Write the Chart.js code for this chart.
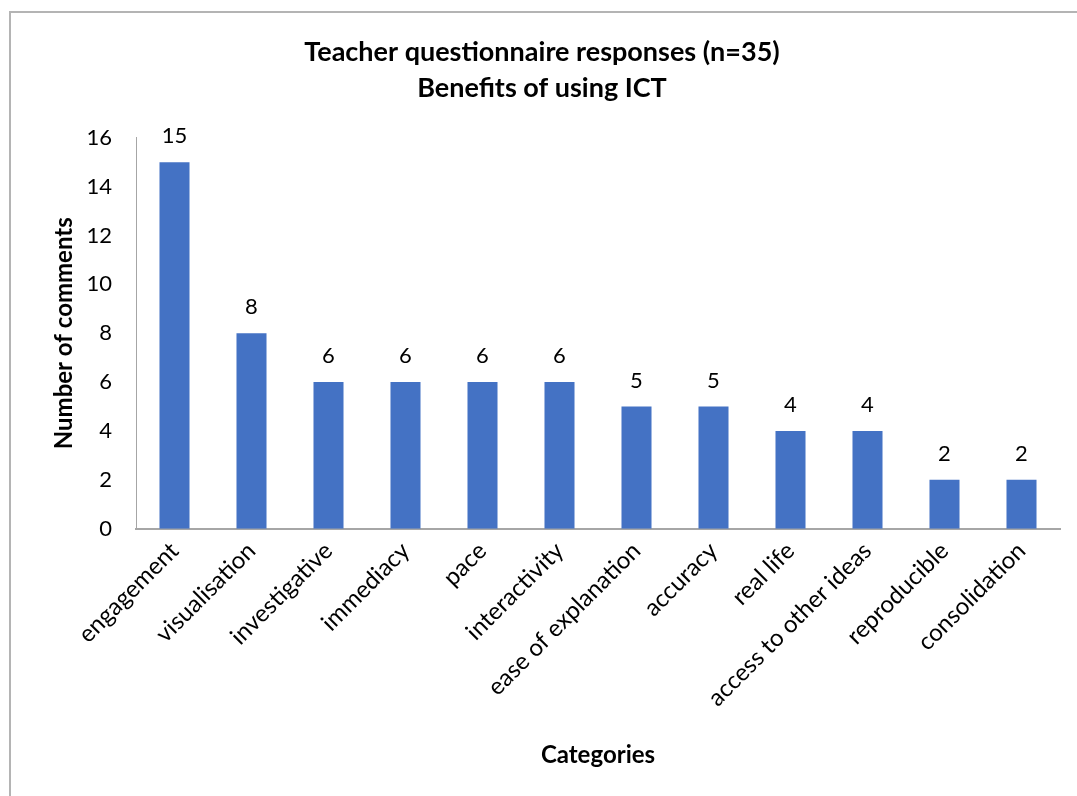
<!DOCTYPE html>
<html>
<head>
<meta charset="utf-8">
<script src="https://cdn.jsdelivr.net/npm/chart.js@4"></script>
<style>
  html, body { margin: 0; padding: 0; background: #fff; overflow: hidden; }
  .frame {
    position: absolute; left: 9px; top: 11px; width: 1100px; height: 800px;
    border-left: 2px solid #b4b4b4; border-top: 2px solid #b4b4b4;
  }
  .chart__box { position: absolute; left: 0; top: 0; width: 1077px; height: 796px; }
</style>
</head>
<body>
<div class="frame"></div>
<div class="chart__box"><canvas id="myChart"></canvas></div>
<script>
// data
const categories = [
  'engagement',
  'visualisation',
  'investigative',
  'immediacy',
  'pace',
  'interactivity',
  'ease of explanation',
  'accuracy',
  'real life',
  'access to other ideas',
  'reproducible',
  'consolidation',
];

const comments = [15, 8, 6, 6, 6, 6, 5, 5, 4, 4, 2, 2];

const titleLines = ['Teacher questionnaire responses (n=35)', 'Benefits of using ICT'];

const fontName = 'Lato, "Open Sans", sans-serif';

// value labels above bars
const valueLabels = {
  id: 'valueLabels',
  afterDatasetsDraw(chart) {
    const ctx = chart.ctx;
    const meta = chart.getDatasetMeta(0);
    ctx.save();
    ctx.font = '22px ' + fontName;
    ctx.fillStyle = '#000';
    ctx.textAlign = 'center';
    ctx.textBaseline = 'middle';
    meta.data.forEach(function(bar, i) {
      ctx.fillText(comments[i], bar.x, bar.y - 26);
    });
    ctx.restore();
  }
};

const config = {
  type: 'bar',
  data: {
    labels: categories,
    datasets: [{
      label: 'Number of comments',
      data: comments,
      backgroundColor: '#4472C4',
      borderWidth: 0,
      barPercentage: 0.39,
      categoryPercentage: 1,
    }]
  },
  options: {
    responsive: true,
    maintainAspectRatio: false,
    animation: false,
    layout: { padding: { top: 34, right: 17, left: 24, bottom: 26 } },
    plugins: {
      legend: { display: false },
      tooltip: { enabled: false },
      title: {
        display: true,
        text: titleLines,
        color: '#000',
        font: { family: fontName, weight: 'bold', size: 27, lineHeight: 1.33 },
        padding: { top: 0, bottom: 32 },
      },
    },
    scales: {
      x: {
        // rotated first label may hang left of the plot, like the original
        afterFit: function(scale) { scale.paddingLeft = 0; },
        grid: { display: false, drawTicks: false },
        border: { display: true, color: '#a6a6a6', width: 2 },
        ticks: {
          color: '#000',
          font: { family: fontName, size: 24 },
          maxRotation: 45,
          minRotation: 45,
          padding: 8,
        },
        title: {
          display: true,
          text: 'Categories',
          color: '#000',
          font: { family: fontName, weight: 'bold', size: 24 },
          padding: { top: 21, bottom: 0 },
        },
      },
      y: {
        afterFit: function(scale) { scale.width = 112; },
        min: 0,
        max: 16,
        grid: { display: false, drawTicks: false },
        border: { display: true, color: '#a6a6a6', width: 1 },
        ticks: {
          stepSize: 2,
          color: '#000',
          font: { family: fontName, size: 22 },
          padding: 24,
        },
        title: {
          display: true,
          text: 'Number of comments',
          color: '#000',
          font: { family: fontName, weight: 'bold', size: 24 },
          padding: { top: 26, bottom: 12 },
        },
      },
    },
  },
  plugins: [valueLabels],
};

const myChart = new Chart(document.getElementById('myChart'), config);
</script>
</body>
</html>
